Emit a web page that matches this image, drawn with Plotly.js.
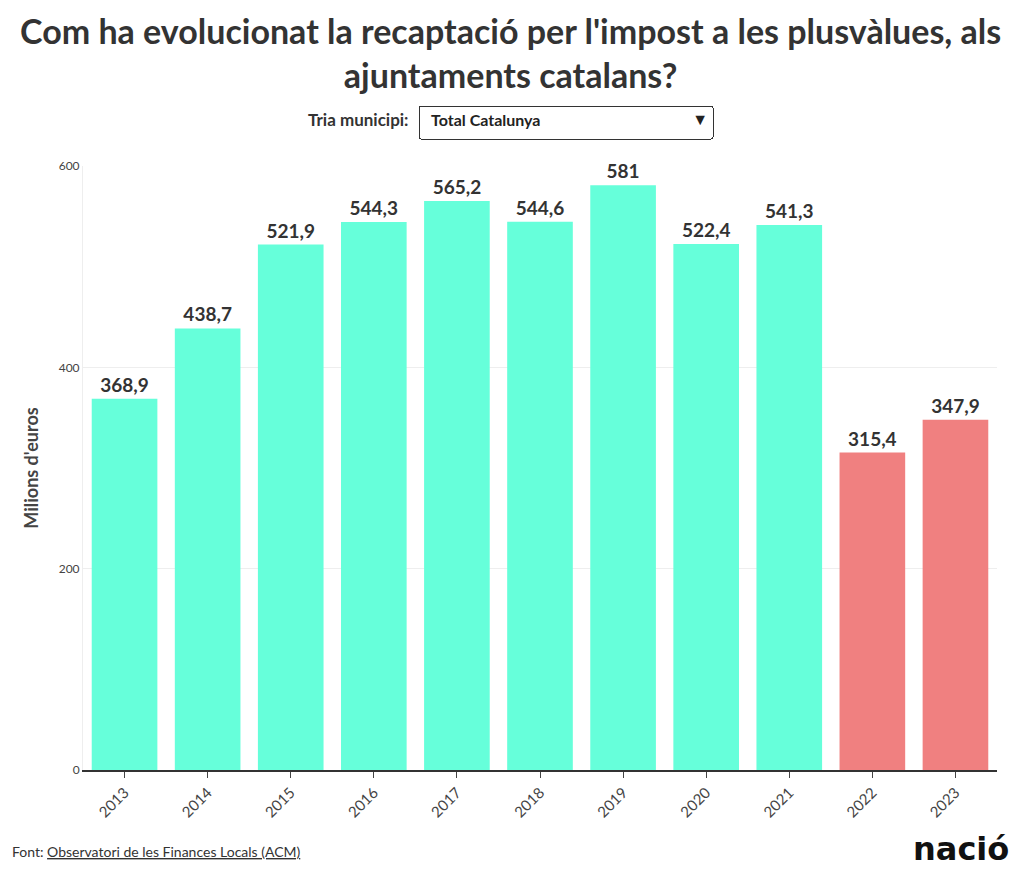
<!DOCTYPE html>
<html>
<head>
<meta charset="utf-8">
<script src="https://cdn.plot.ly/plotly-3.0.1.min.js"></script>
<style>body{margin:0;padding:0;background:#fff;} #chart{width:1020px;height:877px;}</style>
</head>
<body>
<div id="chart"></div>
<script>
const years = ['2013','2014','2015','2016','2017','2018','2019','2020','2021','2022','2023'];
const values = [368.9, 438.7, 521.9, 544.3, 565.2, 544.6, 581, 522.4, 541.3, 315.4, 347.9];
const barColors = ['#66ffda','#66ffda','#66ffda','#66ffda','#66ffda','#66ffda','#66ffda','#66ffda','#66ffda','#f08080','#f08080'];
const yTicks = [0, 200, 400, 600];
const labels = values.map(v => String(v).replace('.', ','));

const FONT = 'Lato, "Open Sans", sans-serif';

// plot area in pixels: x 83..997, y 166..770
const L = 83, R = 997, T = 166, B = 770;
const px = x => (x - L) / (R - L);
const py = y => (B - y) / (B - T);

const trace = {
  type: 'bar',
  x: years,
  y: values,
  marker: {color: barColors},
  text: labels,
  textposition: 'outside',
  cliponaxis: false,
  textfont: {family: FONT, size: 19, color: '#333', weight: 'bold'},
  hoverinfo: 'x+y'
};

const layout = {
  width: 1020, height: 877,
  font: {family: FONT, color: '#444'},
  paper_bgcolor: '#fff', plot_bgcolor: '#fff',
  margin: {l: L, r: 1020 - R, t: T, b: 877 - B},
  bargap: 0.21,
  showlegend: false,
  xaxis: {
    type: 'category',
    tickangle: -45,
    ticks: 'outside', ticklen: 6, tickcolor: '#444',
    tickfont: {family: FONT, size: 15, color: '#444'},
    showline: true, linecolor: '#333', linewidth: 2,
    showgrid: false, fixedrange: true
  },
  yaxis: {
    range: [0, 600],
    tickvals: yTicks,
    ticktext: yTicks.map(String),
    tickfont: {family: FONT, size: 12, color: '#444'},
    showgrid: true, gridcolor: '#eeeeee',
    zeroline: false,
    showline: true, linecolor: '#eeeeee',
    ticks: '', ticklen: 0,
    title: {text: "Milions d'euros", font: {family: FONT, size: 18, color: '#444', weight: 'bold'}, standoff: 15},
    fixedrange: true
  },
  updatemenus: [{
    type: 'dropdown',
    buttons: [{label: 'Total Catalunya' + '\u00a0'.repeat(37), method: 'skip', args: []}],
    active: 0,
    showactive: true,
    x: px(418), xanchor: 'left',
    y: py(105), yanchor: 'top',
    bgcolor: '#fff', bordercolor: '#333', borderwidth: 1,
    font: {family: FONT, size: 16, color: '#222', weight: 'bold'},
    pad: {t: 0, l: 0, r: 0, b: 0}
  }],
  annotations: [
    {
      text: "Com ha evolucionat la recaptació per l'impost a les plusvàlues, als<br>ajuntaments catalans?",
      xref: 'paper', yref: 'paper', x: px(510), xanchor: 'center', y: py(52), yanchor: 'middle',
      showarrow: false, align: 'center',
      font: {family: FONT, size: 34, color: '#333', weight: 'bold'}
    },
    {
      text: 'Tria municipi:', xref: 'paper', yref: 'paper',
      x: px(411), xanchor: 'right', y: py(119), yanchor: 'middle',
      showarrow: false, font: {family: FONT, size: 17, color: '#333', weight: 'bold'}
    },
    {
      text: 'Font: <a href="#" style="color:#333;text-decoration:underline">Observatori de les Finances Locals (ACM)</a>',
      xref: 'paper', yref: 'paper', x: px(10), xanchor: 'left', y: py(851), yanchor: 'middle',
      showarrow: false, font: {family: FONT, size: 14, color: '#333'}
    },
    {
      text: 'nació', xref: 'paper', yref: 'paper', x: px(1011), xanchor: 'right', y: py(849), yanchor: 'middle',
      showarrow: false, font: {family: '"DejaVu Sans", sans-serif', size: 32, color: '#111', weight: 'bold'}
    }
  ]
};

Plotly.newPlot('chart', [trace], layout, {displayModeBar: false, responsive: false});
</script>
</body>
</html>
